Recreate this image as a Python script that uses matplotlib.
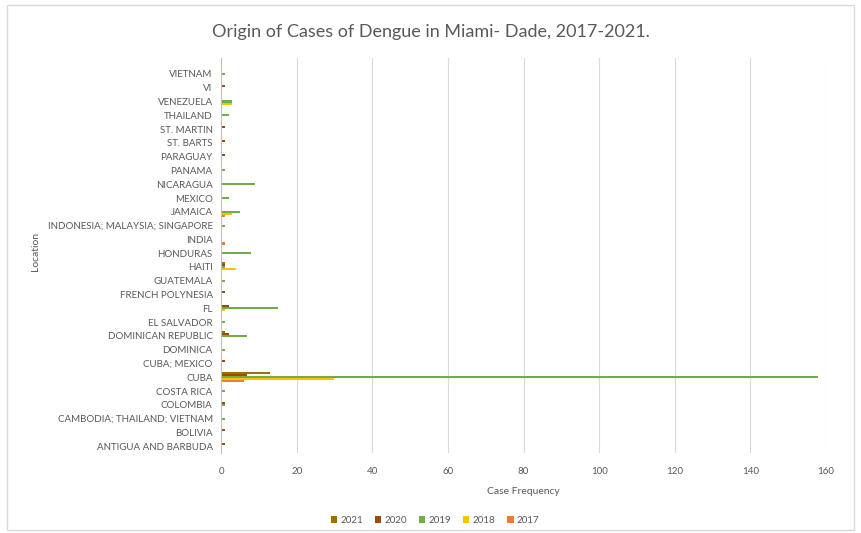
import matplotlib
matplotlib.use("Agg")
import matplotlib.pyplot as plt
import numpy as np
from matplotlib.patches import Rectangle

plt.rcParams['font.family'] = ['Lato', 'DejaVu Sans']

locations = ["ANTIGUA AND BARBUDA", "BOLIVIA", "CAMBODIA; THAILAND; VIETNAM", "COLOMBIA",
             "COSTA RICA", "CUBA", "CUBA; MEXICO", "DOMINICA", "DOMINICAN REPUBLIC",
             "EL SALVADOR", "FL", "FRENCH POLYNESIA", "GUATEMALA", "HAITI", "HONDURAS",
             "INDIA", "INDONESIA; MALAYSIA; SINGAPORE", "JAMAICA", "MEXICO", "NICARAGUA",
             "PANAMA", "PARAGUAY", "ST. BARTS", "ST. MARTIN", "THAILAND", "VENEZUELA",
             "VI", "VIETNAM"]
y2021 = [0, 0, 0, 0, 0, 13, 0, 0, 1, 0, 0, 0, 0, 1, 0, 0, 0, 0, 0, 0, 0, 0, 0, 0, 0, 0, 0, 0]
y2020 = [1, 1, 0, 1, 0, 7, 1, 0, 2, 0, 2, 1, 0, 1, 0, 0, 0, 0, 0, 0, 0, 1, 1, 1, 0, 0, 1, 0]
y2019 = [0, 0, 1, 1, 1, 158, 0, 1, 7, 1, 15, 0, 1, 1, 8, 0, 1, 5, 2, 9, 1, 0, 0, 0, 2, 3, 0, 1]
y2018 = [0, 0, 0, 0, 0, 30, 0, 0, 0, 0, 1, 0, 0, 4, 0, 0, 0, 3, 0, 0, 0, 0, 0, 0, 0, 3, 0, 0]
y2017 = [0, 0, 0, 0, 0, 6, 0, 0, 0, 0, 0, 0, 0, 0, 0, 1, 0, 1, 0, 0, 0, 0, 0, 0, 0, 0, 0, 0]
series_names = ["2021", "2020", "2019", "2018", "2017"]
series = [y2021, y2020, y2019, y2018, y2017]
colors = ["#997300", "#9E480E", "#70AD47", "#FFC000", "#ED7D31"]
xticks = [0, 20, 40, 60, 80, 100, 120, 140, 160]

fig = plt.figure(figsize=(8.61, 5.33), dpi=100)
fig.patches.append(Rectangle((0.008, 0.006), 0.984, 0.984, transform=fig.transFigure,
                             fill=False, edgecolor="#D9D9D9", linewidth=1))
ax = fig.add_axes([0.2567, 0.150, 0.7027, 0.741])

n = len(locations)
y = np.arange(n)
h = 0.15
for i, (name, vals, c) in enumerate(zip(series_names, series, colors)):
    ax.barh(y + (2 - i) * h, vals, height=h, color=c, label=name, linewidth=0)

ax.set_xlim(0, 160)
ax.set_ylim(-0.5, n + 0.15)
ax.set_yticks(y)
ax.set_yticklabels(locations, fontsize=7, color="#595959")
ax.set_xticks(xticks)
ax.set_xticklabels([str(t) for t in xticks], fontsize=7, color="#595959")
ax.tick_params(axis="y", length=0, pad=6)
ax.tick_params(axis="x", length=0, pad=10)
ax.grid(axis="x", color="#D9D9D9", linewidth=0.8)
ax.set_axisbelow(True)
for s in ["top", "right", "bottom"]:
    ax.spines[s].set_visible(False)
ax.spines["left"].set_color("#BFBFBF")
ax.set_xlabel("Case Frequency", fontsize=7.5, color="#595959", labelpad=8)
ax.set_ylabel("Location", fontsize=7.5, color="#595959")
ax.yaxis.set_label_coords(-0.300, 0.51)

fig.text(0.5, 0.94, "Origin of Cases of Dengue in Miami- Dade, 2017-2021.", ha="center",
         va="center", fontsize=13, color="#595959")

handles, labels = ax.get_legend_handles_labels()
fig.legend(handles, labels, loc="center", bbox_to_anchor=(0.505, 0.024), ncol=5, frameon=False,
           fontsize=7, handlelength=0.7, handleheight=0.7, columnspacing=1.2, handletextpad=0.3,
           labelcolor="#595959")

fig.savefig("out.png", dpi=100)
